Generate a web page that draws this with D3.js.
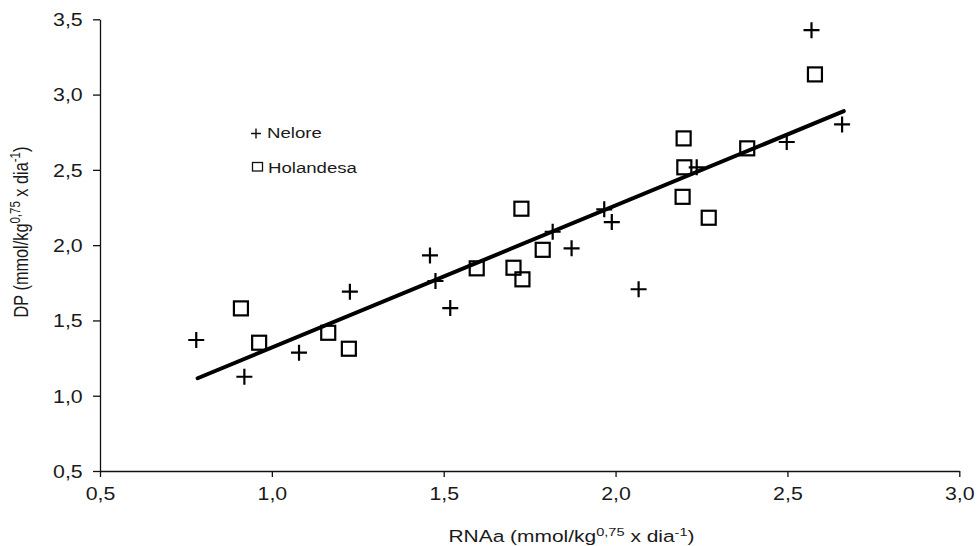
<!DOCTYPE html>
<html><head><meta charset="utf-8">
<script src="https://cdn.jsdelivr.net/npm/d3@7"></script>
<style>body{margin:0;background:#fff}svg{display:block}text{font-family:Arial,"Liberation Sans",sans-serif}</style>
</head><body>
<svg id="c" width="978" height="546"></svg>
<script>
const neloreX = [0.780,0.920,1.079,1.227,1.460,1.476,1.519,1.817,1.872,1.967,1.989,2.067,2.236,2.498,2.570,2.659];
const neloreY = [1.370,1.126,1.286,1.691,1.932,1.762,1.582,2.089,1.979,2.238,2.153,1.707,2.517,2.685,3.428,2.802];
const holX = [0.910,0.963,1.164,1.224,1.596,1.703,1.729,1.726,1.788,2.198,2.200,2.195,2.271,2.383,2.580];
const holY = [1.580,1.352,1.418,1.312,1.846,1.850,1.773,2.242,1.969,2.709,2.517,2.321,2.182,2.643,3.134];
const lineX = [0.784,2.664];
const lineY = [1.116,2.890];
const xTicks = [0.5,1.0,1.5,2.0,2.5,3.0];
const yTicks = [0.5,1.0,1.5,2.0,2.5,3.0,3.5];
const seriesNames = ["Nelore","Holandesa"];

const FONT = "Arial, 'Liberation Sans', sans-serif";
const svg = d3.select("#c");
const x = d3.scaleLinear().domain([0.5,3.0]).range([100,959.3]);
const y = d3.scaleLinear().domain([0.5,3.5]).range([471,19.3]);
const fmt = d => d3.format(".1f")(d).replace(".",",");
const SX = 1.22;

const gx = svg.append("g").attr("transform","translate(0,471)")
  .call(d3.axisBottom(x).tickValues(xTicks).tickFormat(fmt).tickSize(6).tickSizeOuter(0));
const gy = svg.append("g").attr("transform","translate(100,0)")
  .call(d3.axisLeft(y).tickValues(yTicks).tickFormat(fmt).tickSize(7).tickSizeOuter(0));
[gx,gy].forEach(g=>{
  g.select(".domain").attr("stroke","#111").attr("stroke-width",1.3);
  g.selectAll(".tick line").attr("stroke","#111").attr("stroke-width",1.3);
  g.selectAll(".tick text").attr("fill","#1a1a1a").style("font-size","17.5px").style("font-family",FONT);
});
gx.selectAll(".tick text").attr("dy","0").attr("y",28.7).attr("transform",`scale(${SX},1)`);
gy.selectAll(".tick text").attr("x",-17.3/SX).attr("dy","0.36em").attr("transform",`scale(${SX},1)`);

// regression line
svg.append("line")
  .attr("x1",x(lineX[0])).attr("y1",y(lineY[0]))
  .attr("x2",x(lineX[1])).attr("y2",y(lineY[1]))
  .attr("stroke","#000").attr("stroke-width",4).attr("stroke-linecap","round");

// squares (Holandesa)
const s = 14;
svg.append("g").selectAll("rect").data(holX.map((v,i)=>[v,holY[i]])).join("rect")
  .attr("x",d=>x(d[0])-s/2).attr("y",d=>y(d[1])-s/2).attr("width",s).attr("height",s)
  .attr("fill","none").attr("stroke","#000").attr("stroke-width",2.2);

// crosses (Nelore)
const c = 8;
svg.append("g").selectAll("path").data(neloreX.map((v,i)=>[v,neloreY[i]])).join("path")
  .attr("d",d=>{const px=x(d[0]),py=y(d[1]);return `M${px-c},${py}H${px+c}M${px},${py-c}V${py+c}`;})
  .attr("stroke","#000").attr("stroke-width",2.2).attr("fill","none");

// legend
const lg = svg.append("g");
lg.append("path").attr("d","M251,133.5H261M256,128.5V138.5").attr("stroke","#111").attr("stroke-width",1.4);
lg.append("text").attr("transform","translate(267,138.3) scale(1.2,1)").text(seriesNames[0])
  .style("font-size","15.5px").attr("fill","#1a1a1a");
lg.append("rect").attr("x",252.5).attr("y",162.5).attr("width",10).attr("height",8.5)
  .attr("fill","none").attr("stroke","#111").attr("stroke-width",1.3);
lg.append("text").attr("transform","translate(268,172.7) scale(1.2,1)").text(seriesNames[1])
  .style("font-size","15.5px").attr("fill","#1a1a1a");

// axis titles
function title(sel){
  sel.append("tspan").text(sel.attr("data-main"));
  sel.append("tspan").text("0,75").attr("dy",-6.5).style("font-size","11.5px");
  sel.append("tspan").text(" x dia").attr("dy",6.5);
  sel.append("tspan").text("-1").attr("dy",-6.5).style("font-size","11.5px");
  sel.append("tspan").text(")").attr("dy",6.5);
}
svg.append("text").attr("transform","translate(571.5,542) scale(1.27,1)").attr("text-anchor","middle")
  .style("font-size","16.5px").attr("fill","#1a1a1a").attr("data-main","RNAa (mmol/kg").call(title);
svg.append("text").attr("transform","translate(28,232) rotate(-90) scale(1,1.2)").attr("text-anchor","middle")
  .style("font-size","16.3px").attr("fill","#1a1a1a").attr("data-main","DP (mmol/kg").call(title);
</script>
</body></html>
